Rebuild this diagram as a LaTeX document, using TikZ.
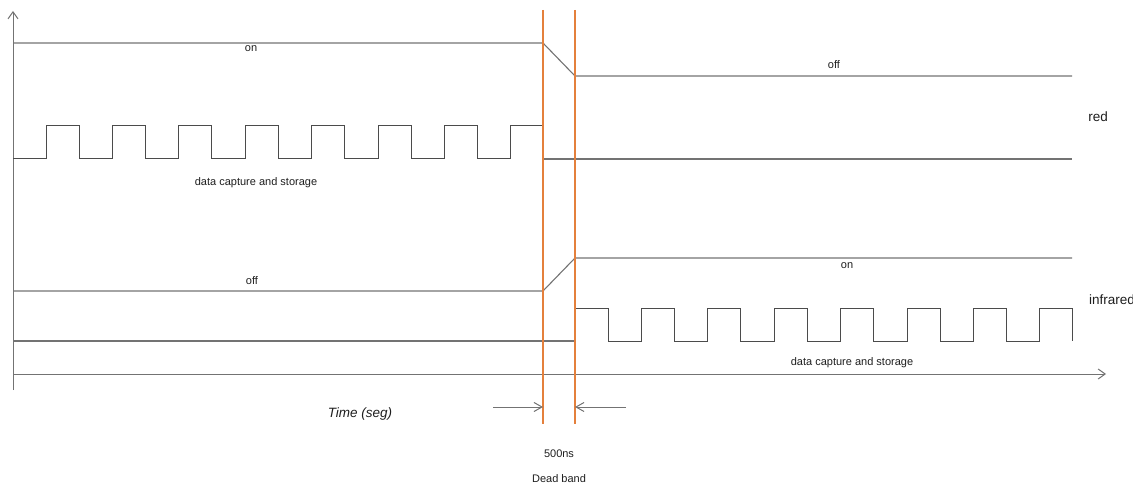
\documentclass[tikz,border=0pt]{standalone}
\usepackage{fontspec}
\setmainfont{Liberation Sans}
\usetikzlibrary{arrows.meta}
\definecolor{trace}{RGB}{115,115,115}
\definecolor{wave}{RGB}{75,75,75}
\definecolor{band}{RGB}{228,128,60}
\definecolor{ink}{RGB}{30,30,30}
\begin{document}
\begin{tikzpicture}[x=1pt,y=-1pt,
  signal/.style={draw=trace,line width=1.1pt},
  pulse/.style={draw=wave,line width=1pt,line join=miter},
  deadline/.style={draw=band,line width=2pt},
  axisarrow/.style={draw=trace,line width=1pt,-{Straight Barb[length=7pt,width=10pt]}},
  dimarrow/.style={draw=trace,line width=1pt,-{Straight Barb[length=8pt,width=9pt]}},
  lbl/.style={font=\fontsize{11}{13}\selectfont,text=ink,inner sep=0pt},
  biglbl/.style={font=\fontsize{13.5}{15}\selectfont,text=ink,inner sep=0pt}]

\useasboundingbox (0,0) rectangle (1133,484);

% axes
\coordinate (origin) at (13,390);
\coordinate (ytip) at (13,11);
\coordinate (tstart) at (13,374);
\coordinate (ttip) at (1106,374);
\draw[axisarrow] (origin) -- (ytip);
\draw[axisarrow] (tstart) -- (ttip);

% red LED enable: on, ramp down through the dead band, off
\draw[signal] (13,43) -- (543,43) -- (575,76) -- (1072,76);

% red channel sampling pulses, then idle
\draw[pulse] (13,159)
  \foreach \i in {0,...,7} { -- ({46+66.4*\i},159) -- ++(0,-33) -- ++(33,0) -- ++(0,33) };
\draw[signal] (543,159) -- (1072,159);

% infrared LED enable: off, ramp up through the dead band, on
\draw[signal] (13,291) -- (543,291) -- (575,258) -- (1072,258);

% infrared channel idle, then sampling pulses
\draw[signal] (13,341) -- (575,341);
\draw[pulse] (575,341)
  \foreach \i in {0,...,7} { -- ({575+66.4*\i},341) -- ++(0,-33) -- ++(33,0) -- ++(0,33) };

% dead band boundaries
\coordinate (b1top) at (543,10);
\coordinate (b1bot) at (543,424);
\coordinate (b2top) at (575,10);
\coordinate (b2bot) at (575,424);
\draw[deadline] (b1top) -- (b1bot);
\draw[deadline] (b2top) -- (b2bot);

% dead band width markers
\coordinate (dimL) at (493,407);
\coordinate (tipL) at (543,407);
\coordinate (dimR) at (626,407);
\coordinate (tipR) at (575,407);
\draw[dimarrow] (dimL) -- (tipL);
\draw[dimarrow] (dimR) -- (tipR);

% labels
\node[lbl] (redon) at (251,49) {on};
\node[lbl] (redoff) at (834,65) {off};
\node[biglbl] (redname) at (1098,117) {red};
\node[lbl] (redcap) at (256,183) {data capture and storage};
\node[lbl] (iroff) at (252,281) {off};
\node[lbl] (iron) at (847,266) {on};
\node[biglbl, anchor=west] (irname) at (1089,300) {infrared};
\node[lbl] (ircap) at (852,363) {data capture and storage};
\node[biglbl] (timelbl) at (360,414) {\itshape Time (seg)};
\node[lbl] (width) at (559,454) {500ns};
\node[lbl] (deadlbl) at (559,479) {Dead band};
\end{tikzpicture}
\end{document}
